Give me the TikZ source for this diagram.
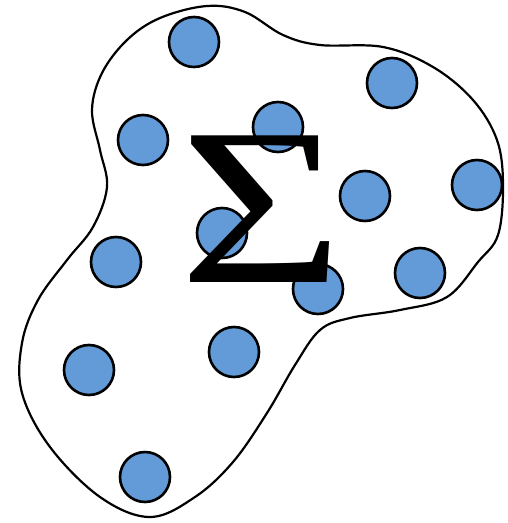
\documentclass[tikz,border=0pt]{standalone}
\usepackage{fontspec}
\setmainfont{Liberation Serif}
\definecolor{dotblue}{RGB}{98,155,215}
\begin{document}
\begin{tikzpicture}[x=1pt,y=-1pt,
  dot/.style={circle,draw=black,line width=2.6pt,fill=dotblue,minimum size=50pt,inner sep=0pt},
  blob/.style={draw=black,line width=2.2pt}]
\useasboundingbox (0,0) rectangle (507,523);
\draw[blob] plot[smooth cycle,tension=0.6] coordinates {
 (207,6) (245,12) (283,35) (320,45) (383,47) (433,67) (473,100) (497,140)
 (503,185) (498,235) (478,262) (447,297) (400,310) (350,318) (320,330)
 (295,365) (267,413) (233,462) (195,497) (150,517) (100,497) (50,447)
 (22,393) (22,343) (38,300) (67,260) (93,227) (107,187) (100,150)
 (92,110) (102,73) (127,40) (160,18)};
\node[dot] (c1) at (194,42) {};
\node[dot] (c2) at (392,83) {};
\node[dot] (c3) at (278,127) {};
\node[dot] (c4) at (143,140) {};
\node[dot] (c5) at (365,196) {};
\node[dot] (c6) at (477,185) {};
\node[dot] (c7) at (222,233) {};
\node[dot] (c8) at (116,262) {};
\node[dot] (c9) at (420,273) {};
\node[dot] (c10) at (318,289) {};
\node[dot] (c11) at (234,352) {};
\node[dot] (c12) at (89,370) {};
\node[dot] (c13) at (145,477) {};
\node[inner sep=0pt] (sigma) at (262,209) {\scalebox{1.26}[1]{\fontsize{224}{224}\selectfont Σ}};
\end{tikzpicture}
\end{document}
